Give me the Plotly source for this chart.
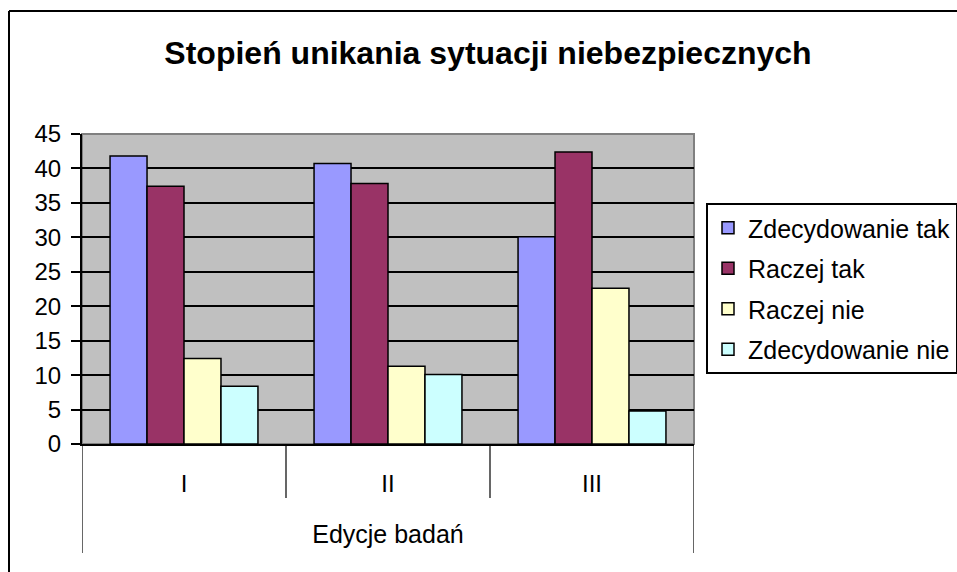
import plotly.graph_objects as go

categories = ["I", "II", "III"]
series_names = ["Zdecydowanie tak", "Raczej tak", "Raczej nie", "Zdecydowanie nie"]
zdecydowanie_tak = [41.8, 40.7, 30.1]
raczej_tak = [37.4, 37.8, 42.4]
raczej_nie = [12.4, 11.3, 22.6]
zdecydowanie_nie = [8.4, 10.1, 4.8]
colors = ["#9999FF", "#993366", "#FFFFCC", "#CCFFFF"]
title_text = "Stopień unikania sytuacji niebezpiecznych"
x_title = "Edycje badań"

W, H = 957, 572
L, R, T, B = 82, 694, 134, 444
pw, ph = R - L, B - T

def px(x):
    return (x - L) / pw

def py(y):
    return (B - y) / ph

FONT = "Liberation Sans, Arial, sans-serif"

fig = go.Figure()
for i, (name, vals) in enumerate(zip(series_names, [zdecydowanie_tak, raczej_tak, raczej_nie, zdecydowanie_nie])):
    fig.add_trace(go.Bar(
        x=categories, y=vals, name=name,
        marker=dict(color=colors[i], line=dict(color="black", width=1.5)),
        legendgroup=name,
    ))

shapes = []
shapes.append(dict(type="rect", xref="paper", yref="paper", x0=0, x1=1, y0=0, y1=1,
                   line=dict(color="#808080", width=2), layer="below"))
for xv in [-0.5, 0.5, 1.5, 2.5]:
    shapes.append(dict(type="line", xref="x", yref="paper", x0=xv, x1=xv, y0=0, y1=py(498),
                       line=dict(color="black", width=1.2)))
for xv in [-0.5, 2.5]:
    shapes.append(dict(type="line", xref="x", yref="paper", x0=xv, x1=xv, y0=py(498), y1=py(553),
                       line=dict(color="black", width=1.2)))
shapes.append(dict(type="line", xref="paper", yref="paper", x0=px(9), x1=px(970), y0=py(11), y1=py(11),
                   line=dict(color="black", width=2)))
shapes.append(dict(type="line", xref="paper", yref="paper", x0=px(9), x1=px(9), y0=py(11), y1=py(590),
                   line=dict(color="black", width=2)))

fig.update_layout(
    width=W, height=H,
    margin=dict(l=L, r=W - R, t=T, b=H - B, autoexpand=False),
    paper_bgcolor="white", plot_bgcolor="#C0C0C0",
    font=dict(family=FONT, size=24, color="black"),
    barmode="group", bargap=0.275, bargroupgap=0,
    title=dict(text="<b>" + title_text + "</b>", x=488 / W, xref="container",
               xanchor="center", y=1 - 53 / H, yanchor="middle",
               font=dict(family=FONT, size=32, color="black")),
    showlegend=True,
    legend=dict(x=px(706), y=py(203), xanchor="left", yanchor="top",
                bgcolor="white", bordercolor="black", borderwidth=2,
                font=dict(family=FONT, size=25, color="black"),
                itemwidth=30,
                traceorder="grouped", tracegroupgap=5),
    shapes=shapes,
)
fig.update_xaxes(range=[-0.5, 2.5], showline=True, linecolor="black", linewidth=2,
                 ticks="", showgrid=False, ticklabelstandoff=17,
                 tickfont=dict(family=FONT, size=24, color="black"),
                 title=dict(text=x_title, standoff=30, font=dict(family=FONT, size=25, color="black")))
fig.update_yaxes(range=[0, 45], dtick=5, showline=True, linecolor="black", linewidth=2,
                 ticks="outside", ticklen=9, tickwidth=2, tickcolor="black",
                 showgrid=True, gridcolor="black", gridwidth=1.5, zeroline=False,
                 ticklabelstandoff=5,
                 tickfont=dict(family=FONT, size=24, color="black"))

fig.write_html("out.html", config={"displayModeBar": False},
               post_script="document.body.style.margin='0';document.body.style.overflow='hidden';")
